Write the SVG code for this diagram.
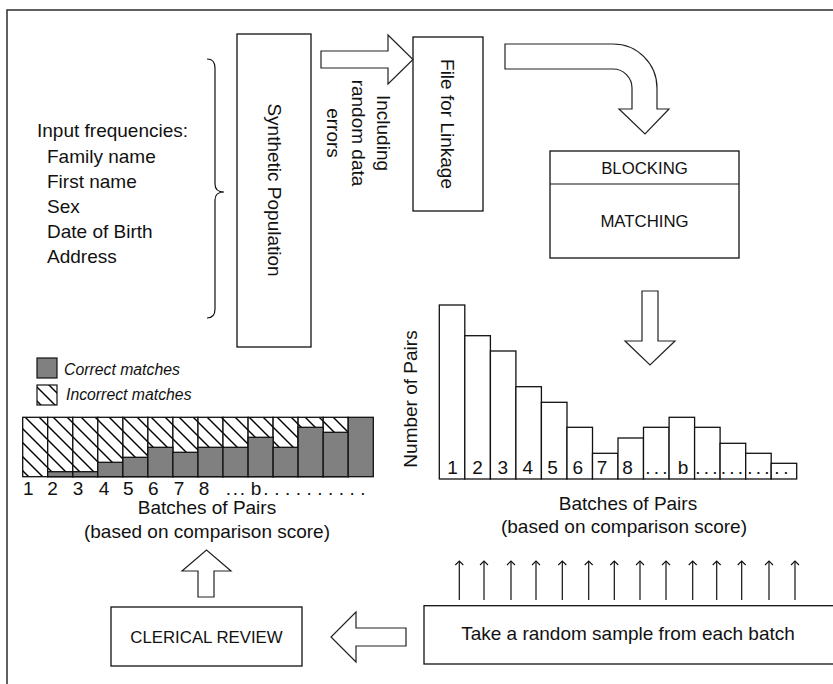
<svg xmlns="http://www.w3.org/2000/svg" width="833" height="684" viewBox="0 0 833 684">
<style>
text{font-family:"Liberation Sans",Arial,sans-serif;fill:#111;font-size:19px}
.caps{font-size:16.8px}
.lg{font-size:15.8px;font-style:italic}
.box{fill:#fff;stroke:#111;stroke-width:1.3}
.bar{fill:#fff;stroke:#111;stroke-width:1.3}
.hbar{fill:url(#hatch);stroke:#111;stroke-width:1.3}
.gbar{fill:#808080;stroke:#111;stroke-width:1.3}
.barrow{fill:#fff;stroke:#222;stroke-width:1.2}
.thin{stroke:#111;stroke-width:1.2;fill:none}
.mid{text-anchor:middle}
</style>
<defs>
<pattern id="hatch" patternUnits="userSpaceOnUse" width="14" height="14">
<rect width="14" height="14" fill="#fff"/>
<path d="M-1,-1 L15,15 M-8,6 L8,22 M6,-8 L22,8" stroke="#000" stroke-width="1.4"/>
</pattern>
<marker id="chev" viewBox="0 0 10 10" refX="9" refY="5" markerWidth="10" markerHeight="10" markerUnits="userSpaceOnUse" orient="auto">
<path d="M5,1 L9,5 L5,9" fill="none" stroke="#111" stroke-width="1.1"/>
</marker>
</defs>

<rect x="7" y="10" width="830" height="680" fill="none" stroke="#3a3a3a" stroke-width="1.6"/>

<g id="input-frequencies">
<text x="37" y="137">Input frequencies:</text>
<text x="47" y="163">Family name</text>
<text x="47" y="188">First name</text>
<text x="47" y="213">Sex</text>
<text x="47" y="238">Date of Birth</text>
<text x="47" y="263">Address</text>
<path class="thin" d="M207,59 Q215,59 215,68 V184 Q215,192 224,192 Q215,192 215,200 V309 Q215,318 207,318"/>
</g>

<g id="synthetic-population">
<rect class="box" x="237" y="34" width="74" height="313"/>
<text class="mid" transform="translate(275,190) rotate(90)" dy="0.35em">Synthetic Population</text>
</g>

<g id="file-for-linkage">
<rect class="box" x="413" y="37" width="70" height="174"/>
<text class="mid" transform="translate(448,124) rotate(90)" dy="0.35em">File for Linkage</text>
</g>

<g id="blocking-matching">
<rect class="box" x="550" y="151" width="189" height="107"/>
<line class="thin" x1="550" y1="184" x2="739" y2="184"/>
<text class="caps mid" x="644.5" y="174">BLOCKING</text>
<text class="caps mid" x="644.5" y="227">MATCHING</text>
</g>

<g id="histogram">
<rect class="bar" x="439.3" y="305" width="25.5" height="174"/>
<rect class="bar" x="464.8" y="335.7" width="25.6" height="143.3"/>
<rect class="bar" x="490.4" y="351" width="25.5" height="128"/>
<rect class="bar" x="515.9" y="386.7" width="25.5" height="92.3"/>
<rect class="bar" x="541.4" y="402.3" width="25.6" height="76.7"/>
<rect class="bar" x="567" y="427.3" width="25.5" height="51.7"/>
<rect class="bar" x="592.5" y="453.3" width="25.5" height="25.7"/>
<rect class="bar" x="618" y="438" width="25.5" height="41"/>
<rect class="bar" x="643.5" y="427.3" width="25.6" height="51.7"/>
<rect class="bar" x="669.1" y="417.3" width="25.5" height="61.7"/>
<rect class="bar" x="694.6" y="427.3" width="25.5" height="51.7"/>
<rect class="bar" x="720.1" y="443.3" width="25.6" height="35.7"/>
<rect class="bar" x="745.7" y="453.3" width="25.5" height="25.7"/>
<rect class="bar" x="771.2" y="463.3" width="25.5" height="15.7"/>
<text class="mid" x="452.5 477.5 502.8 527.8 552.5 577.8 602 627.5" y="474.3">12345678</text>
<text class="mid" x="648 656.5 665" y="474.3">...</text>
<text class="mid" x="683" y="474.3">b</text>
<text class="mid" x="698 706.5 715 723.5 732 740.5 750 758.5 767 777 786" y="474.3">...........</text>
<text class="mid" transform="translate(410,399) rotate(-90)" dy="0.35em">Number of Pairs</text>
<text class="mid" x="628" y="510">Batches of Pairs</text>
<text class="mid" x="624" y="533">(based on comparison score)</text>
</g>

<g id="legend">
<rect x="37" y="358" width="20" height="20" fill="#808080" stroke="#111" stroke-width="1.2"/>
<rect x="37" y="385" width="20" height="20" fill="url(#hatch)" stroke="#111" stroke-width="1.2"/>
<text class="lg" x="64" y="375">Correct matches</text>
<text class="lg" x="66" y="400">Incorrect matches</text>
</g>

<g id="stacked-chart">
<rect class="hbar" x="22.7" y="417.3" width="25" height="59.4"/>
<rect class="hbar" x="47.7" y="417.3" width="25.1" height="59.4"/>
<rect class="hbar" x="72.8" y="417.3" width="25" height="59.4"/>
<rect class="hbar" x="97.8" y="417.3" width="25.1" height="59.4"/>
<rect class="hbar" x="122.9" y="417.3" width="25" height="59.4"/>
<rect class="hbar" x="147.9" y="417.3" width="25" height="59.4"/>
<rect class="hbar" x="172.9" y="417.3" width="25.1" height="59.4"/>
<rect class="hbar" x="198" y="417.3" width="25" height="59.4"/>
<rect class="hbar" x="223" y="417.3" width="25.1" height="59.4"/>
<rect class="hbar" x="248.1" y="417.3" width="25" height="59.4"/>
<rect class="hbar" x="273.1" y="417.3" width="25" height="59.4"/>
<rect class="hbar" x="298.1" y="417.3" width="25.1" height="59.4"/>
<rect class="hbar" x="323.2" y="417.3" width="25" height="59.4"/>
<rect class="gbar" x="47.7" y="471.7" width="25.1" height="5"/>
<rect class="gbar" x="72.8" y="471.7" width="25" height="5"/>
<rect class="gbar" x="97.8" y="462.3" width="25.1" height="14.4"/>
<rect class="gbar" x="122.9" y="457.3" width="25" height="19.4"/>
<rect class="gbar" x="147.9" y="447.3" width="25" height="29.4"/>
<rect class="gbar" x="172.9" y="452.3" width="25.1" height="24.4"/>
<rect class="gbar" x="198" y="447.3" width="25" height="29.4"/>
<rect class="gbar" x="223" y="447.3" width="25.1" height="29.4"/>
<rect class="gbar" x="248.1" y="437.3" width="25" height="39.4"/>
<rect class="gbar" x="273.1" y="447.3" width="25" height="29.4"/>
<rect class="gbar" x="298.1" y="427.3" width="25.1" height="49.4"/>
<rect class="gbar" x="323.2" y="432.3" width="25" height="44.4"/>
<rect class="gbar" x="348.2" y="417.3" width="25.1" height="59.4"/>
<text class="mid" x="28.3 52.5 78 104 128.3 153.3 179 204" y="495">12345678</text>
<text class="mid" x="228.5 235.5 242.5" y="495">...</text>
<text class="mid" x="256" y="495">b</text>
<text class="mid" x="266 276.8 287.6 298.3 309.1 319.9 330.7 341.4 352.2 363" y="495">..........</text>
<text class="mid" x="207" y="514">Batches of Pairs</text>
<text class="mid" x="207" y="538">(based on comparison score)</text>
</g>

<g id="sample-box">
<rect class="box" x="424" y="605.7" width="420" height="58.3"/>
<text class="mid" x="628" y="640">Take a random sample from each batch</text>
</g>

<g id="clerical-review">
<rect class="box" x="111" y="607" width="191" height="59"/>
<text class="caps mid" x="206.5" y="643">CLERICAL REVIEW</text>
</g>

<g id="connectors">
<polygon class="barrow" points="321,51 388,51 388,35 413,59.5 388,84 388,68 321,68"/>
<text transform="translate(377,133) rotate(90)"><tspan class="mid" x="0" y="0">Including</tspan><tspan class="mid" x="0" y="25">random data</tspan><tspan class="mid" x="0" y="50">errors</tspan></text>
<path class="barrow" d="M505,44 H613 A44,44 0 0 1 657,88 V109 H669 L645,134 L619,109 H632 V88 A19,19 0 0 0 613,69 H505 Z"/>
<polygon class="barrow" points="642,291 658,291 658,341 675,341 650,365 625,341 642,341"/>
<polygon class="barrow" points="406,628 356,628 356,612 331,637 356,662 356,646 406,646"/>
<polygon class="barrow" points="198,597 198,571 182,571 206.5,550 231,571 214,571 214,597"/>
<g class="thin" marker-end="url(#chev)">
<line x1="459.3" y1="600" x2="459.3" y2="561"/>
<line x1="484" y1="600" x2="484" y2="561"/>
<line x1="511" y1="600" x2="511" y2="561"/>
<line x1="536" y1="600" x2="536" y2="561"/>
<line x1="562.3" y1="600" x2="562.3" y2="561"/>
<line x1="588.7" y1="600" x2="588.7" y2="561"/>
<line x1="614.3" y1="600" x2="614.3" y2="561"/>
<line x1="640" y1="600" x2="640" y2="561"/>
<line x1="666" y1="600" x2="666" y2="561"/>
<line x1="692.7" y1="600" x2="692.7" y2="561"/>
<line x1="716.7" y1="600" x2="716.7" y2="561"/>
<line x1="741.7" y1="600" x2="741.7" y2="561"/>
<line x1="769" y1="600" x2="769" y2="561"/>
<line x1="795" y1="600" x2="795" y2="561"/>
</g>
</g>
</svg>
